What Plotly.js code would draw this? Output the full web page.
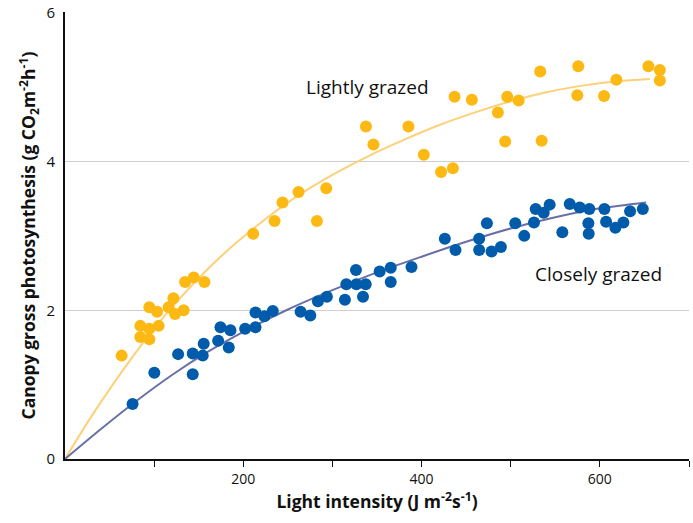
<!DOCTYPE html>
<html>
<head>
<meta charset="utf-8">
<script src="https://cdn.plot.ly/plotly-3.0.1.min.js"></script>
<style>html,body{margin:0;padding:0;background:#fff;}#chart{width:693px;height:523px;}</style>
</head>
<body>
<div id="chart"></div>
<script>
// Lightly grazed observations
const lightX = [63.5,84.5,84.5,94.6,94.6,94.6,103.3,105.1,116.3,121.6,123.5,133.1,134.7,144.4,156.4,211.1,235.1,244.0,262.0,282.6,293.1,337.6,346.0,385.3,402.5,421.9,435.1,437.0,456.4,485.6,493.8,496.1,508.9,533.1,534.7,574.7,575.8,604.7,618.5,654.5,667.3,667.3];
const lightY = [1.39,1.79,1.64,2.04,1.75,1.61,1.98,1.79,2.04,2.16,1.95,2.00,2.38,2.44,2.38,3.03,3.20,3.45,3.59,3.20,3.64,4.47,4.23,4.47,4.09,3.86,3.91,4.87,4.83,4.66,4.27,4.87,4.82,5.21,4.28,4.89,5.28,4.88,5.10,5.28,5.23,5.09];
// Closely grazed observations
const closeX = [75.8,100.2,126.9,143.3,143.3,154.5,155.6,171.8,174.4,183.7,185.6,202.1,213.7,213.7,223.8,233.1,264.3,275.2,283.7,293.8,314.0,315.6,326.4,326.9,334.3,337.3,353.0,365.4,365.4,388.7,426.1,438.1,464.6,464.6,473.3,478.5,489.0,505.1,515.2,526.1,528.0,537.0,543.7,557.9,566.2,577.4,588.2,587.1,587.5,605.1,607.0,617.4,626.4,633.9,648.2];
const closeY = [0.74,1.16,1.41,1.14,1.42,1.39,1.55,1.59,1.77,1.50,1.73,1.75,1.77,1.97,1.92,1.99,1.98,1.93,2.12,2.18,2.14,2.35,2.54,2.35,2.18,2.35,2.52,2.57,2.38,2.58,2.96,2.81,2.96,2.81,3.17,2.79,2.85,3.17,3.00,3.18,3.36,3.31,3.42,3.05,3.43,3.38,3.36,3.17,3.03,3.36,3.19,3.11,3.18,3.33,3.36];
// Fitted curves
const lightFitX = [0,30,75,110,145,180,220,260,300,340,380,420,460,500,540,580,620,656];
const lightFitY = [0,0.58,1.36,1.90,2.37,2.78,3.18,3.53,3.82,4.07,4.29,4.49,4.66,4.81,4.93,5.02,5.08,5.11];
const closeFitX = [0,40,80,120,160,200,250,300,350,400,450,500,550,600,652];
const closeFitY = [0,0.40,0.78,1.13,1.44,1.71,2.01,2.27,2.51,2.72,2.92,3.10,3.25,3.37,3.45];
// Axis ticks
const xTickVals = [200,400,600];
const xTickText = ['200','400','600'];
const xMinorTickVals = [100,300,500,700];
const yTickVals = [0,2,4,6];
const yTickText = ['0','2','4','6'];

const FONT = 'Open Sans, Noto Sans, sans-serif';
const traces = [
  {x: lightFitX, y: lightFitY, mode: 'lines', line: {color: '#FDD07A', width: 2, shape: 'spline', smoothing: 0.8}, hoverinfo: 'skip'},
  {x: closeFitX, y: closeFitY, mode: 'lines', line: {color: '#6A6FA8', width: 2, shape: 'spline', smoothing: 0.8}, hoverinfo: 'skip'},
  {x: lightX, y: lightY, mode: 'markers', marker: {color: '#FDB913', size: 12}},
  {x: closeX, y: closeY, mode: 'markers', marker: {color: '#005BAA', size: 12}}
];
const layout = {
  width: 693, height: 523,
  margin: {l: 65, r: 4, t: 12, b: 64},
  paper_bgcolor: '#fff', plot_bgcolor: '#fff',
  showlegend: false,
  font: {family: FONT, color: '#111', size: 14},
  xaxis: {
    range: [0, 700], tickvals: xTickVals, ticktext: xTickText,
    ticks: 'outside', ticklen: 6, tickwidth: 1, tickcolor: '#111',
    minor: {tickvals: xMinorTickVals, ticks: 'outside', ticklen: 6, tickwidth: 1, tickcolor: '#111', showgrid: false},
    showline: true, linecolor: '#111', linewidth: 2, showgrid: false, zeroline: false,
    tickfont: {family: FONT, size: 14, color: '#111'},
    title: {text: 'Light intensity (J m<sup>-2</sup>s<sup>-1</sup>)', font: {family: FONT, size: 17.5, color: '#111', weight: 'bold'}, standoff: 8}
  },
  yaxis: {
    range: [0, 6.01], tickvals: yTickVals, ticktext: yTickText,
    ticks: 'outside', ticklen: 5, tickcolor: 'rgba(0,0,0,0)',
    showline: true, linecolor: '#111', linewidth: 2,
    showgrid: true, gridcolor: '#cfcfcf', gridwidth: 1, zeroline: false,
    tickfont: {family: FONT, size: 15, color: '#111'},
    title: {text: 'Canopy gross photosynthesis (g CO<sub>2</sub>m<sup>-2</sup>h<sup>-1</sup>)', font: {family: FONT, size: 17.5, color: '#111', weight: 'bold'}, standoff: 6}
  },
  annotations: [
    {x: 339.6, y: 5.0, xref: 'x', yref: 'y', text: 'Lightly grazed', showarrow: false, font: {family: FONT, size: 19, color: '#111'}},
    {x: 599, y: 2.49, xref: 'x', yref: 'y', text: 'Closely grazed', showarrow: false, font: {family: FONT, size: 19, color: '#111'}}
  ]
};
Plotly.newPlot('chart', traces, layout, {displayModeBar: false, staticPlot: true});
</script>
</body>
</html>
